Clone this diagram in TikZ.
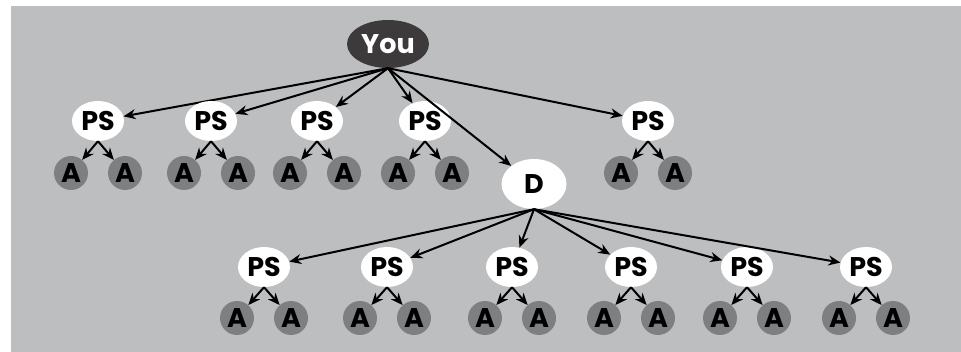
\documentclass[tikz,border=0pt]{standalone}
\usepackage{fontspec}
\setmainfont{Poppins}
\usetikzlibrary{shapes.geometric,arrows.meta}
\definecolor{panel}{HTML}{BDBEC0}
\definecolor{rootfill}{HTML}{3C3A3B}
\definecolor{leaffill}{HTML}{7E7F81}
\tikzset{
  base/.style={inner sep=0pt, font=\bfseries\fontsize{27}{27}\selectfont},
  root/.style={base, ellipse, fill=rootfill, text=white, minimum width=82pt, minimum height=48pt},
  dnode/.style={base, ellipse, fill=white, minimum width=65pt, minimum height=50pt},
  psnode/.style={base, ellipse, fill=white, minimum width=52pt, minimum height=40pt},
  leaf/.style={base, circle, fill=leaffill, minimum size=34pt},
  link/.style={line width=2pt, -{Stealth[length=12pt,width=10pt]}},
}
\begin{document}
\begin{tikzpicture}[x=1pt,y=-1pt]
\useasboundingbox (0,0) rectangle (961,352);
\fill[white] (0,0) rectangle (961,352);
\fill[panel] (11,6) rectangle (961,352);

\node[root] (you) at (388,44) {You};
\node[dnode] (d) at (534,184) {D};

% first level: sales people under the root
\foreach \i/\x in {1/98,2/211,3/317,4/425,6/648}{
  \node[psnode] (p\i) at (\x,121) {PS};
  \node[leaf] (p\i a) at (\x-27,173) {A};
  \node[leaf] (p\i b) at (\x+27,173) {A};
  \draw[link] (you.south) -- (p\i);
  \draw[link] (p\i.south) -- (p\i a);
  \draw[link] (p\i.south) -- (p\i b);
}
\draw[link] (you.south) -- (d);

% second level: sales people under D
\foreach \i/\x in {1/264,2/387,3/512,4/631,5/747,6/866}{
  \node[psnode] (q\i) at (\x,267) {PS};
  \node[leaf] (q\i a) at (\x-27,318) {A};
  \node[leaf] (q\i b) at (\x+27,318) {A};
  \draw[link] (d.south) -- (q\i);
  \draw[link] (q\i.south) -- (q\i a);
  \draw[link] (q\i.south) -- (q\i b);
}
\end{tikzpicture}
\end{document}
